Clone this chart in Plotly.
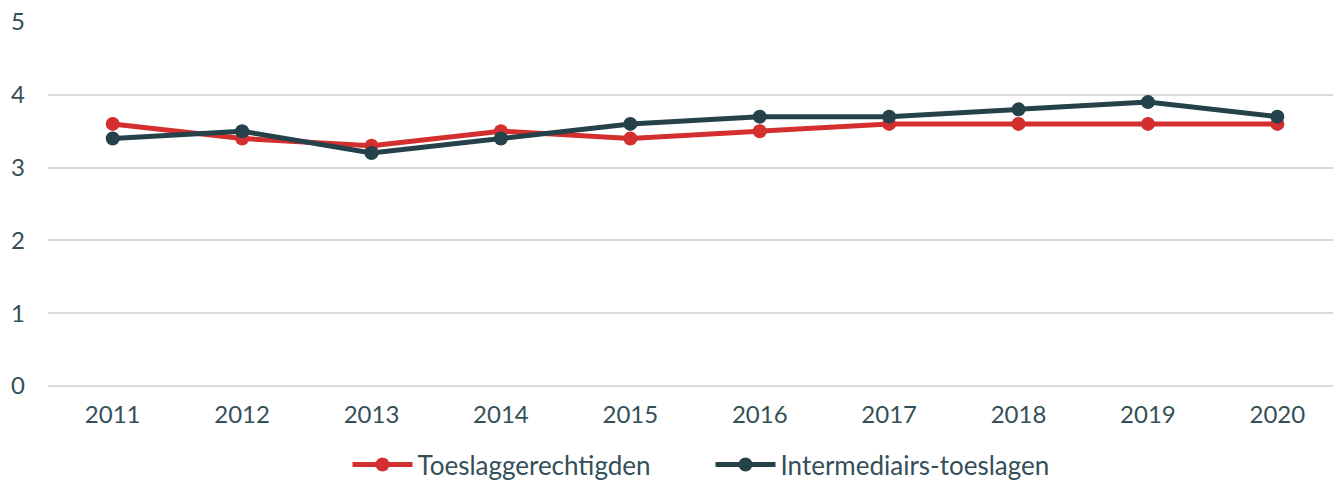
import plotly.graph_objects as go

years = ["2011", "2012", "2013", "2014", "2015", "2016", "2017", "2018", "2019", "2020"]
toeslaggerechtigden = [3.6, 3.4, 3.3, 3.5, 3.4, 3.5, 3.6, 3.6, 3.6, 3.6]
intermediairs = [3.4, 3.5, 3.2, 3.4, 3.6, 3.7, 3.7, 3.8, 3.9, 3.7]

RED = "#d32f2f"
DARK = "#25424a"
TEXT = "#344f57"
GRID = "#d9d9d9"

fig = go.Figure()
fig.add_trace(go.Scatter(
    x=years, y=toeslaggerechtigden, name="Toeslaggerechtigden",
    mode="lines+markers", line=dict(color=RED, width=5),
    marker=dict(color=RED, size=14),
))
fig.add_trace(go.Scatter(
    x=years, y=intermediairs, name="Intermediairs-toeslagen",
    mode="lines+markers", line=dict(color=DARK, width=5),
    marker=dict(color=DARK, size=14),
))

fig.update_layout(
    width=1333, height=482,
    margin=dict(l=48, r=0, t=22, b=96),
    paper_bgcolor="white", plot_bgcolor="white",
    font=dict(family="Lato, 'Open Sans', sans-serif", size=24, color=TEXT),
    showlegend=True,
    legend=dict(orientation="h", x=0.533, xanchor="center", xref="container",
                y=0.085, yanchor="top", yref="container",
                font=dict(size=26, color=TEXT), itemwidth=60,
                entrywidth=288, entrywidthmode="pixels", tracegroupgap=0),
    xaxis=dict(type="category", range=[-0.5, 9.43], showgrid=False, zeroline=False,
               showline=False, ticks="", ticklabelstandoff=12,
               tickfont=dict(size=24, color=TEXT)),
    yaxis=dict(range=[0, 5], dtick=1, showgrid=True, gridcolor=GRID, gridwidth=2,
               zeroline=True, zerolinecolor=GRID, zerolinewidth=2, showline=False,
               ticks="", ticklabelstandoff=22, tickfont=dict(size=24, color=TEXT)),
)

fig.write_html("out.html")
